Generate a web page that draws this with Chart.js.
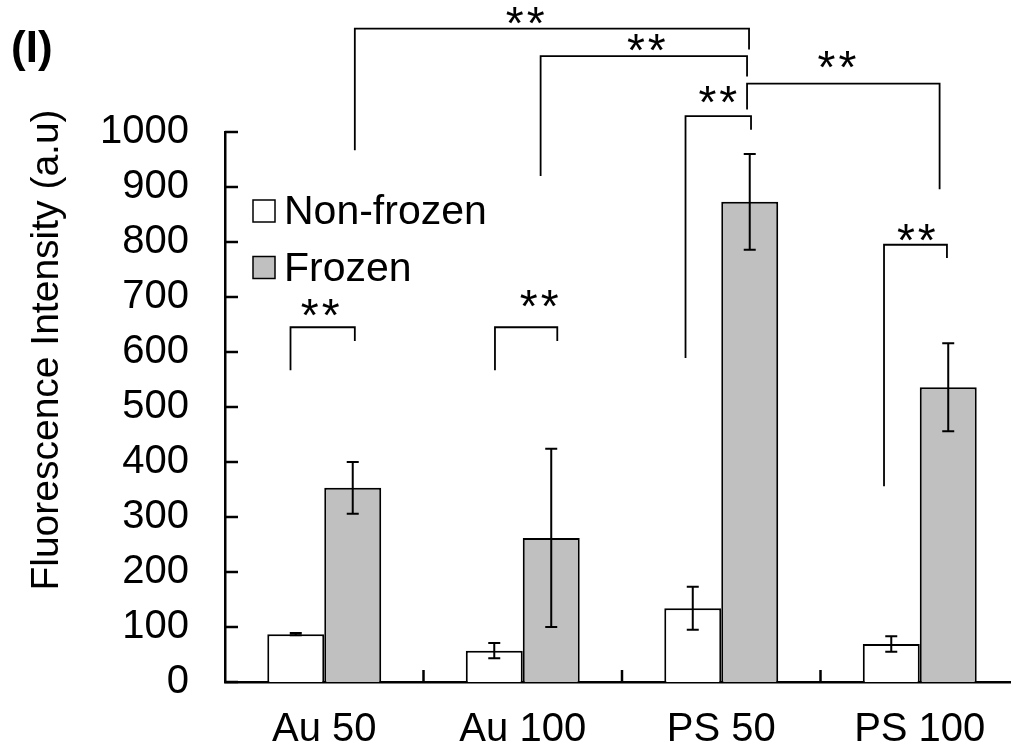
<!DOCTYPE html>
<html lang="en">
<head>
  <meta charset="UTF-8" />
  <title>Fluorescence Intensity</title>
  <script src="https://cdn.jsdelivr.net/npm/chart.js"></script>
  <style>
    html, body {
      margin: 0;
      padding: 0;
      background: #fff;
      overflow: hidden;
    }
    #chart {
      display: block;
    }
  </style>
</head>
<body>
  <canvas id="chart" width="1040" height="751"></canvas>

  <script>
    // data
    const categories = ['Au 50', 'Au 100', 'PS 50', 'PS 100'];
    const nonFrozen = [87, 57, 134, 69];
    const nonFrozenErr = [2, 14, 39, 14];
    const frozen = [353, 262, 873, 536];
    const frozenErr = [47, 162, 87, 80];
    const seriesLabels = ['Non-frozen', 'Frozen'];
    const yMin = 0, yMax = 1000, yStep = 100;

    // significance brackets: x in category units, y in data units
    const bracketX1 = [-0.17, 0.86, 0.154, 1.09, 2.13, 1.82, 2.82];
    const bracketX2 = [0.154, 1.174, 2.14, 2.13, 3.10, 2.15, 3.137];
    const bracketTop = [645, 645, 1188, 1138, 1088, 1029, 795];
    const bracketLeftEnd = [567, 567, 967, 920, 1041, 589, 356];
    const bracketRightEnd = [620, 620, 1150, 1101, 896, 1004, 771];
    const starX = [-0.023, 1.08, 1.01, 1.62, 2.58, 1.98, 2.98];
    const starY = [677, 693, 1208, 1159, 1127, 1064, 812];

    const FONT = "'Liberation Sans', Arial, sans-serif";

    // x position for fractional category index
    function catPx(xs, u) {
      let p0 = xs.getPixelForValue(0);
      let p1 = xs.getPixelForValue(1);
      return p0 + (p1 - p0) * u;
    }

    const extras = {
      id: 'extras',
      afterDatasetsDraw(chart) {
        const ctx = chart.ctx;
        const xs = chart.scales.x;
        const ys = chart.scales.y;
        const area = chart.chartArea;
        ctx.save();
        ctx.strokeStyle = '#000';
        ctx.lineCap = 'butt';

        // error bars
        const errs = [nonFrozenErr, frozenErr];
        const vals = [nonFrozen, frozen];
        ctx.lineWidth = 2;
        chart.data.datasets.forEach((ds, di) => {
          const meta = chart.getDatasetMeta(di);
          meta.data.forEach((bar, i) => {
            let top = ys.getPixelForValue(vals[di][i] + errs[di][i]);
            let bot = ys.getPixelForValue(vals[di][i] - errs[di][i]);
            ctx.beginPath();
            ctx.moveTo(bar.x, top);
            ctx.lineTo(bar.x, bot);
            ctx.moveTo(bar.x - 6, top);
            ctx.lineTo(bar.x + 6, top);
            ctx.moveTo(bar.x - 6, bot);
            ctx.lineTo(bar.x + 6, bot);
            ctx.stroke();
          });
        });

        // inward tick marks
        ctx.lineWidth = 2.5;
        ys.ticks.forEach(t => {
          let y = ys.getPixelForValue(t.value);
          ctx.beginPath();
          ctx.moveTo(area.left, y);
          ctx.lineTo(area.left + 13, y);
          ctx.stroke();
        });
        for (let i = 0; i < categories.length; i++) {
          let x = catPx(xs, i + 0.5);
          ctx.beginPath();
          ctx.moveTo(x, area.bottom);
          ctx.lineTo(x, area.bottom - 12);
          ctx.stroke();
        }

        // significance brackets
        ctx.lineWidth = 1.8;
        for (let i = 0; i < bracketX1.length; i++) {
          let x1 = catPx(xs, bracketX1[i]);
          let x2 = catPx(xs, bracketX2[i]);
          ctx.beginPath();
          ctx.moveTo(x1, ys.getPixelForValue(bracketLeftEnd[i]));
          ctx.lineTo(x1, ys.getPixelForValue(bracketTop[i]));
          ctx.lineTo(x2, ys.getPixelForValue(bracketTop[i]));
          ctx.lineTo(x2, ys.getPixelForValue(bracketRightEnd[i]));
          ctx.stroke();
        }
        ctx.fillStyle = '#000';
        ctx.font = '46px ' + FONT;
        ctx.letterSpacing = '3px';
        ctx.textAlign = 'center';
        ctx.textBaseline = 'alphabetic';
        for (let i = 0; i < starX.length; i++) {
          let x = catPx(xs, starX[i]) + 2;
          let y = ys.getPixelForValue(starY[i]) + 21;
          ctx.fillText('**', x, y);
        }
        ctx.letterSpacing = '0px';

        // legend inside plot
        const lx = area.left + 28, ly = area.top + 68;
        chart.data.datasets.forEach((ds, di) => {
          let y = ly + di * 56.5;
          ctx.fillStyle = ds.backgroundColor;
          ctx.fillRect(lx, y, 22, 22);
          ctx.lineWidth = 1.5;
          ctx.strokeRect(lx, y, 22, 22);
          ctx.fillStyle = '#000';
          ctx.font = '41px ' + FONT;
          ctx.textAlign = 'left';
          ctx.textBaseline = 'middle';
          ctx.fillText(ds.label, lx + 31, y + 13);
        });

        // axis title and panel label
        ctx.save();
        ctx.translate(47, 350);
        ctx.rotate(-Math.PI / 2);
        ctx.font = '39px ' + FONT;
        ctx.textAlign = 'center';
        ctx.textBaseline = 'middle';
        ctx.fillText('Fluorescence Intensity (a.u)', 0, 0);
        ctx.restore();

        ctx.font = 'bold 44px ' + FONT;
        ctx.textAlign = 'left';
        ctx.textBaseline = 'alphabetic';
        ctx.fillText('(I)', 11, 62);
        ctx.restore();
      }
    };

    const ctx = document.getElementById('chart').getContext('2d');
    new Chart(ctx, {
      type: 'bar',
      data: {
        labels: categories,
        datasets: [
          {
            label: seriesLabels[0],
            data: nonFrozen,
            backgroundColor: '#ffffff',
            borderColor: '#000',
            borderWidth: 2,
            categoryPercentage: 0.574,
            barPercentage: 1.0
          },
          {
            label: seriesLabels[1],
            data: frozen,
            backgroundColor: '#c0c0c0',
            borderColor: '#000',
            borderWidth: 2,
            categoryPercentage: 0.574,
            barPercentage: 1.0
          }
        ]
      },
      options: {
        responsive: false,
        animation: false,
        devicePixelRatio: 1,
        layout: {
          padding: { left: 0, right: 21, top: 132, bottom: 0 }
        },
        plugins: {
          legend: { display: false },
          tooltip: { enabled: false }
        },
        scales: {
          x: {
            grid: { display: false, drawTicks: false },
            border: { color: '#000', width: 2.5 },
            ticks: {
              color: '#000',
              font: { family: FONT, size: 40 },
              padding: 24,
              maxRotation: 0
            },
            afterFit(scale) { scale.height = 69; }
          },
          y: {
            min: yMin,
            max: yMax,
            grid: { display: false, drawTicks: false },
            border: { color: '#000', width: 2.5 },
            ticks: {
              stepSize: yStep,
              color: '#000',
              font: { family: FONT, size: 40 },
              padding: 36,
              callback: v => String(v)
            },
            afterFit(scale) { scale.width = 225; }
          }
        }
      },
      plugins: [extras]
    });
  </script>
</body>
</html>
